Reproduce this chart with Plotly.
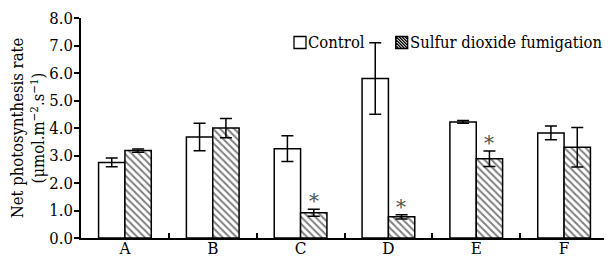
import plotly.graph_objects as go

categories = ["A", "B", "C", "D", "E", "F"]
control_mean = [2.75, 3.67, 3.25, 5.80, 4.22, 3.82]
control_err = [0.16, 0.50, 0.47, 1.30, 0.05, 0.25]
treated_mean = [3.18, 4.00, 0.92, 0.77, 2.88, 3.30]
treated_err = [0.06, 0.35, 0.13, 0.08, 0.28, 0.72]
significant = [False, False, True, True, True, False]
y_ticks = [0, 1, 2, 3, 4, 5, 6, 7, 8]
legend_labels = ["Control", "Sulfur dioxide fumigation"]

SERIF = "DejaVu Serif"
SERIF_C = "DejaVu Serif Condensed"

fig = go.Figure()
fig.add_trace(go.Bar(
    name=legend_labels[0], x=categories, y=control_mean,
    marker=dict(color="white", line=dict(color="black", width=1.5)),
    error_y=dict(type="data", array=control_err, visible=True,
                 color="black", thickness=1.5, width=6),
    showlegend=False,
))
fig.add_trace(go.Bar(
    name=legend_labels[1], x=categories, y=treated_mean,
    marker=dict(color="white", line=dict(color="black", width=1.5),
                pattern=dict(shape="\\", size=5, solidity=0.4,
                             fgcolor="black", bgcolor="white")),
    error_y=dict(type="data", array=treated_err, visible=True,
                 color="black", thickness=1.5, width=6),
    showlegend=False,
))

for cat, m, e, s in zip(categories, treated_mean, treated_err, significant):
    if s:
        fig.add_annotation(x=cat, y=m + e, text="*", showarrow=False,
                           xshift=13, yshift=-6, yanchor="bottom",
                           font=dict(family=SERIF, size=20, color="#555555"))

def sq_path(hatched):
    h = 6
    p = f"M{-h},{-h} L{h},{-h} L{h},{h} L{-h},{h} Z"
    if hatched:
        for c in range(-9, 10, 3):
            if c >= 0:
                p += f" M{c-h},{h} L{h},{c-h}"
            else:
                p += f" M{-h},{c+h} L{c+h},{-h}"
    return p

# legend placed in plot-area (paper) fractions; plot area is 527 x 220 px
leg_y = (220 - 24.5) / 220
sym_x = [(300 - 81) / 527, (401.7 - 81) / 527]
txt_x = [(306 - 81) / 527, (408 - 81) / 527]
for i, lab in enumerate(legend_labels):
    fig.add_shape(type="path", xref="paper", yref="paper",
                  xsizemode="pixel", ysizemode="pixel",
                  xanchor=sym_x[i], yanchor=leg_y,
                  path=sq_path(i == 1), line=dict(color="black", width=1.3))
    fig.add_annotation(xref="paper", yref="paper", x=txt_x[i], y=leg_y,
                       xanchor="left", yanchor="middle", text=lab,
                       showarrow=False, font=dict(family=SERIF_C, size=16.5, color="black"))

# page body has an 8px default margin, so the figure is sized to fill the
# remaining 612x256 viewport exactly
fig.update_layout(
    width=604, height=248,
    margin=dict(l=73, r=4, t=10, b=18),
    paper_bgcolor="white", plot_bgcolor="white",
    barmode="group", bargap=0.4, bargroupgap=0,
    font=dict(family=SERIF_C, size=16, color="black"),
    showlegend=False,
)
fig.update_xaxes(
    automargin=False,
    showline=True, linecolor="black", linewidth=1.5,
    ticks="inside", ticklen=5, tickwidth=1.5, tickcolor="black",
    tickson="boundaries", showgrid=False, zeroline=False,
    ticklabelstandoff=-6,
    tickfont=dict(family=SERIF_C, size=17),
)
fig.update_yaxes(
    automargin=False,
    range=[0, 8], tickvals=y_ticks, tickformat=".1f",
    showline=True, linecolor="black", linewidth=1.5,
    ticks="outside", ticklen=5, tickwidth=1.5, tickcolor="black",
    ticklabelstandoff=-2,
    showgrid=False, zeroline=False, tickfont=dict(family=SERIF_C, size=16.5),
    title=dict(text="Net photosynthesis rate<br>(μmol.m<sup>−2</sup>.s<sup>−1</sup>)",
               font=dict(family=SERIF_C, size=16.5), standoff=1),
)

fig.write_html("out.html")
